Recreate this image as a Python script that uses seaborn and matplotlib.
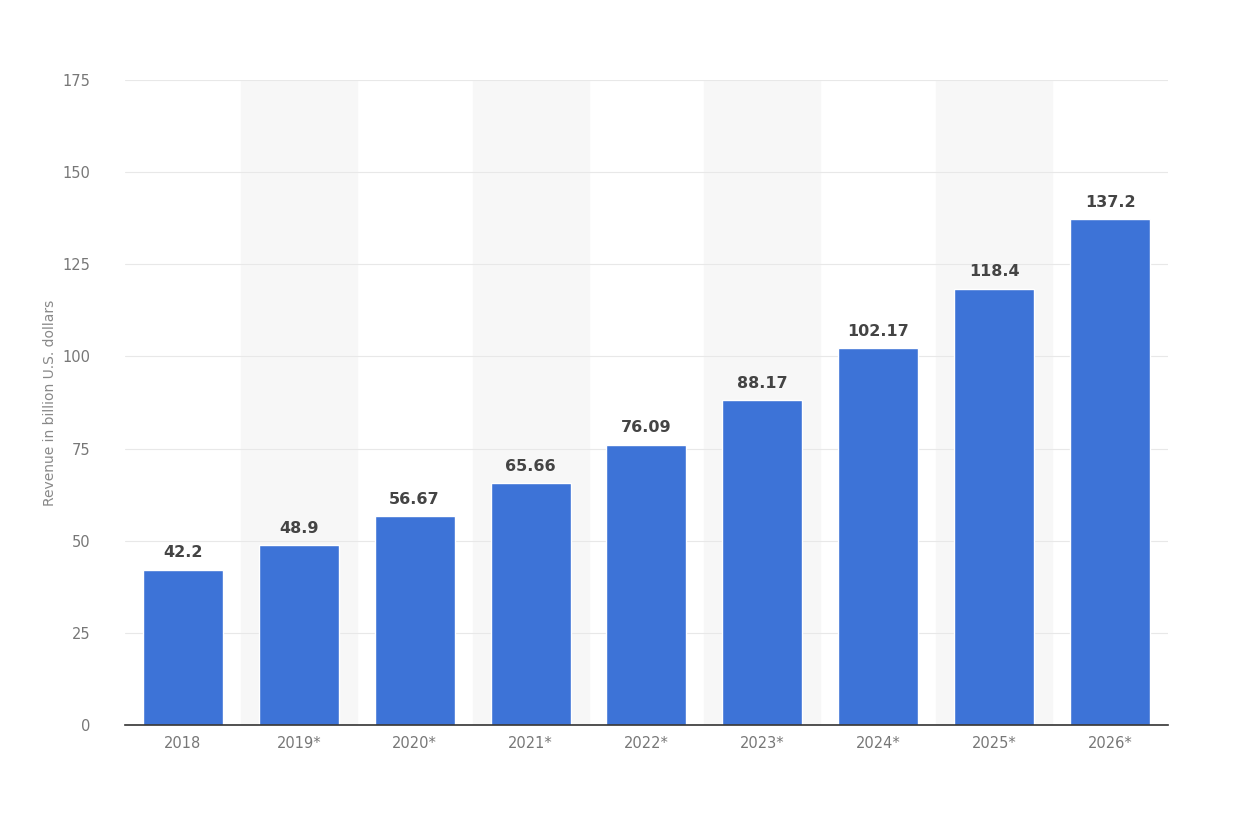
import matplotlib
matplotlib.use("Agg")
import matplotlib.pyplot as plt
import seaborn as sns
import pandas as pd

years = ["2018", "2019*", "2020*", "2021*", "2022*", "2023*", "2024*", "2025*", "2026*"]
revenue = [42.2, 48.9, 56.67, 65.66, 76.09, 88.17, 102.17, 118.4, 137.2]
labels = ["42.2", "48.9", "56.67", "65.66", "76.09", "88.17", "102.17", "118.4", "137.2"]
yticks = [0, 25, 50, 75, 100, 125, 150, 175]

sns.set_style("white")
plt.rcParams['font.family'] = ['DejaVu Sans']
df = pd.DataFrame({"year": years, "revenue": revenue})

fig = plt.figure(figsize=(12.48, 8.24), dpi=100)
ax = fig.add_axes([0.100, 0.120, 0.836, 0.783])
for i in range(1, len(years), 2):
    ax.axvspan(i - 0.5, i + 0.5, color="#f7f7f7", zorder=0)
ax.set_axisbelow(True)
ax.yaxis.grid(True, color="#e8e8e8", linewidth=0.8)
sns.barplot(data=df, x="year", y="revenue", color="#3d73d7", saturation=1, width=0.69, ax=ax, zorder=2)
for i, (v, l) in enumerate(zip(revenue, labels)):
    ax.text(i, v + 2.5, l, ha="center", va="bottom", fontsize=11.5, fontweight="bold", color="#444444")
ax.set_xlim(-0.5, len(years) - 0.5)
ax.set_ylim(0, 175)
ax.set_yticks(yticks)
ax.set_yticklabels([str(t) for t in yticks])
ax.tick_params(axis="both", colors="#777777", labelsize=10.5, length=0, pad=8)
ax.tick_params(axis="y", pad=25)
ax.set_xlabel("")
ax.set_ylabel("Revenue in billion U.S. dollars", color="#888888", fontsize=10, labelpad=4)
for s in ["top", "right", "left"]:
    ax.spines[s].set_visible(False)
ax.spines["bottom"].set_color("#333333")
ax.spines["bottom"].set_linewidth(1.2)
fig.savefig("out.png", dpi=100, facecolor="white")
